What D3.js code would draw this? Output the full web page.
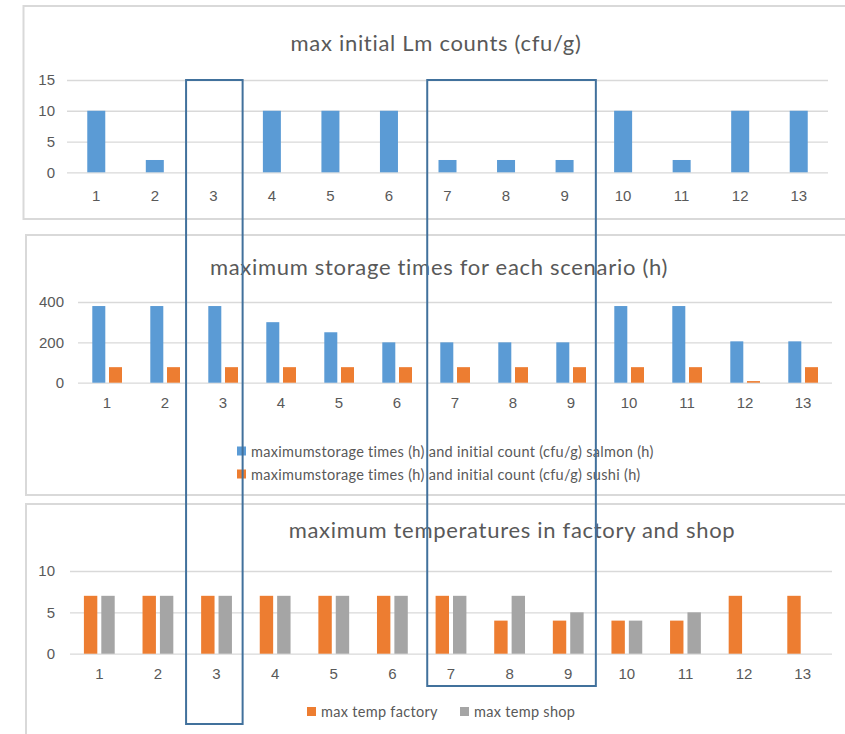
<!DOCTYPE html>
<html>
<head>
<meta charset="utf-8">
<script src="https://cdn.jsdelivr.net/npm/d3@7"></script>
<style>
  body { margin: 0; background: #fff; }
  svg { display: block; font-family: Lato, "Open Sans", sans-serif; }
  .grid line { stroke: #d9d9d9; stroke-width: 1.3; }
  .grid path { display: none; }
  .axis text { fill: #595959; font-size: 15px; }
  .axis path, .axis line { display: none; }
  .title { fill: #595959; font-size: 22px; letter-spacing: 0.7px; }
  .legend text { fill: #595959; font-size: 14.5px; letter-spacing: 0.3px; }
</style>
</head>
<body>
<div id="chart"></div>
<script>
// Scenarios 1..13
const scenarios = d3.range(1, 14).map(String);

// max initial Lm counts (cfu/g)
const lmCounts = [10, 2, 0, 10, 10, 10, 2, 2, 2, 10, 2, 10, 10];

// maximum storage times (h)
const storageSalmon = [380, 380, 380, 300, 250, 200, 200, 200, 200, 380, 380, 205, 205];
const storageSushi = [77, 77, 77, 77, 77, 77, 77, 77, 77, 77, 77, 8, 77];

// maximum temperatures
const tempFactory = [7, 7, 7, 7, 7, 7, 7, 4, 4, 4, 4, 7, 7];
const tempShop = [7, 7, 7, 7, 7, 7, 7, 7, 5, 4, 5, 0, 0];

const storageLabels = [
    "maximumstorage times (h) and initial count (cfu/g) salmon (h)",
    "maximumstorage times (h) and initial count (cfu/g) sushi (h)"
];
const tempLabels = ["max temp factory", "max temp shop"];

// highlighted scenario groups (drawn as boxes over the charts)
const highlights = [
    { from: "3", to: "3", bottom: 724, inset: [2, 0] },
    { from: "7", to: "9", bottom: 686, inset: [9, 2] }
];

const BLUE = "#5b9bd5", ORANGE = "#ed7d31", GRAY = "#a5a5a5";

const W = 845, H = 734;
const svg = d3.select("#chart").append("svg")
    .attr("width", W)
    .attr("height", H);

// panel frames (right / bottom edges run off the picture)
const frames = [
    { x: 23.5, y: 6, h: 213 },
    { x: 26, y: 235, h: 260 },
    { x: 26, y: 504, h: 260 }
];
svg.selectAll(".frame")
    .data(frames)
    .enter()
    .append("rect")
    .attr("class", "frame")
    .attr("x", d => d.x)
    .attr("y", d => d.y)
    .attr("width", 900)
    .attr("height", d => d.h)
    .attr("fill", "none")
    .attr("stroke", "#d9d9d9")
    .attr("stroke-width", 2);

function panel(opts) {
    const x = d3.scaleBand().domain(scenarios).range(opts.xRange);
    const y = d3.scaleLinear().domain(opts.yDomain).range(opts.yRange);

    svg.append("g")
        .attr("class", "grid")
        .attr("transform", `translate(${opts.xRange[0]},0)`)
        .call(d3.axisLeft(y).tickValues(opts.ticks).tickSize(-(opts.xRange[1] - opts.xRange[0])).tickFormat(""));

    svg.append("g")
        .attr("class", "axis")
        .attr("transform", `translate(${opts.xRange[0]},0)`)
        .call(d3.axisLeft(y).tickValues(opts.ticks).tickSize(0).tickPadding(opts.yPad));

    svg.append("g")
        .attr("class", "axis")
        .attr("transform", `translate(0,${opts.yRange[0]})`)
        .call(d3.axisBottom(x).tickSize(0).tickPadding(opts.xPad));

    svg.append("text")
        .attr("class", "title")
        .attr("x", opts.titleX)
        .attr("y", opts.titleY)
        .attr("text-anchor", "middle")
        .attr("dominant-baseline", "central")
        .text(opts.title);

    // bars: each series gets an offset from the band centre
    opts.series.forEach(s => {
        svg.append("g")
            .selectAll("rect")
            .data(s.values.map((v, i) => ({ key: scenarios[i], value: v })).filter(d => d.value > 0))
            .enter()
            .append("rect")
            .attr("x", d => x(d.key) + x.bandwidth() / 2 + s.offset)
            .attr("width", s.width)
            .attr("y", d => y(d.value))
            .attr("height", d => y(0) - y(d.value))
            .attr("fill", s.color);
    });
    return x;
}

const xTop = panel({
    xRange: [67, 828], yDomain: [0, 15], yRange: [172.3, 80], ticks: [0, 5, 10, 15],
    yPad: 12, xPad: 18, title: "max initial Lm counts (cfu/g)", titleX: 436, titleY: 42,
    series: [{ values: lmCounts, color: BLUE, offset: -9, width: 18 }]
});

panel({
    xRange: [78, 832], yDomain: [0, 400], yRange: [382.7, 302], ticks: [0, 200, 400],
    yPad: 14, xPad: 15, title: "maximum storage times for each scenario (h)", titleX: 439, titleY: 266,
    series: [
        { values: storageSalmon, color: BLUE, offset: -14.7, width: 13 },
        { values: storageSushi, color: ORANGE, offset: 2, width: 13 }
    ]
});

panel({
    xRange: [70, 832], yDomain: [0, 10], yRange: [653.7, 571], ticks: [0, 5, 10],
    yPad: 15, xPad: 15, title: "maximum temperatures in factory and shop", titleX: 512, titleY: 529,
    series: [
        { values: tempFactory, color: ORANGE, offset: -15.4, width: 13.4 },
        { values: tempShop, color: GRAY, offset: 2, width: 13.4 }
    ]
});

// legends
const leg1 = svg.append("g").attr("class", "legend");
storageLabels.forEach((t, i) => {
    const g = leg1.append("g").attr("transform", `translate(237,${451 + i * 23})`);
    g.append("rect").attr("x", 0).attr("y", -4.5).attr("width", 9).attr("height", 9)
        .attr("fill", i === 0 ? BLUE : ORANGE);
    g.append("text").attr("x", 14).attr("dominant-baseline", "central").text(t);
});

const leg2 = svg.append("g").attr("class", "legend");
tempLabels.forEach((t, i) => {
    const g = leg2.append("g").attr("transform", `translate(${i === 0 ? 307 : 460},711.5)`);
    g.append("rect").attr("x", 0).attr("y", -4.5).attr("width", 9).attr("height", 9)
        .attr("fill", i === 0 ? ORANGE : GRAY);
    g.append("text").attr("x", 14).attr("dominant-baseline", "central").text(t);
});

// highlight boxes
svg.selectAll(".hl")
    .data(highlights)
    .enter()
    .append("rect")
    .attr("class", "hl")
    .attr("x", d => xTop(d.from) + d.inset[0])
    .attr("y", 80)
    .attr("width", d => xTop(d.to) + xTop.bandwidth() + d.inset[1] - xTop(d.from) - d.inset[0])
    .attr("height", d => d.bottom - 80)
    .attr("fill", "none")
    .attr("stroke", "#41719c")
    .attr("stroke-width", 2);
</script>
</body>
</html>
